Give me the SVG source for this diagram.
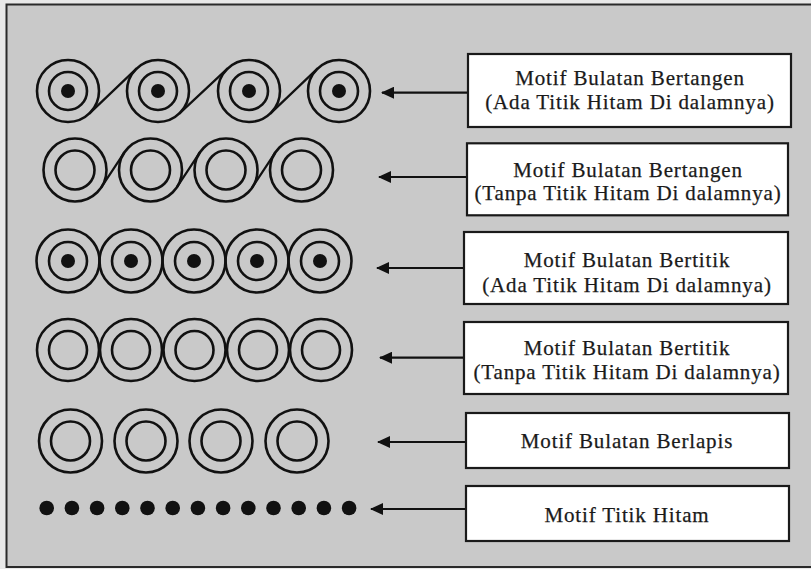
<svg xmlns="http://www.w3.org/2000/svg" width="811" height="569" viewBox="0 0 811 569">
<defs>
<style>
.o{fill:none;stroke:#111;stroke-width:2.6}
.i{fill:none;stroke:#111;stroke-width:2.6}
.d{fill:#111}
.t{fill:none;stroke:#111;stroke-width:2.2}
.box{fill:#fff;stroke:#1a1a1a;stroke-width:2.2}
.lbl{font-family:"Liberation Serif","Times New Roman",serif;font-size:21px;letter-spacing:0.85px;fill:#1a1a1a;stroke:#1a1a1a;stroke-width:0.25;text-anchor:middle}
.arr{fill:none;stroke:#111;stroke-width:2.2;marker-end:url(#ah)}
</style>
<marker id="ah" markerUnits="userSpaceOnUse" markerWidth="14" markerHeight="12" refX="12" refY="6" orient="auto">
<path d="M0,0 L13,6 L0,12 Z" fill="#111"/>
</marker>
</defs>
<rect x="0" y="0" width="811" height="569" fill="#e8e8e8"/>
<rect x="6.5" y="4.5" width="812" height="562.5" fill="#c9c9c9" stroke="#2a2a2a" stroke-width="2"/>

<g id="row1">
<circle class="o" cx="68" cy="91" r="31"/><circle class="i" cx="68" cy="91" r="19"/><circle class="d" cx="68" cy="91" r="7"/>
<circle class="o" cx="158" cy="91" r="31"/><circle class="i" cx="158" cy="91" r="19"/><circle class="d" cx="158" cy="91" r="7"/>
<circle class="o" cx="249" cy="91" r="31"/><circle class="i" cx="249" cy="91" r="19"/><circle class="d" cx="249" cy="91" r="7"/>
<circle class="o" cx="339" cy="91" r="31"/><circle class="i" cx="339" cy="91" r="19"/><circle class="d" cx="339" cy="91" r="7"/>
<path class="t" d="M89.3,113.6 L136.7,68.4 M179.3,113.6 L227.7,68.4 M270.3,113.6 L317.7,68.4"/>
</g>

<g id="row2">
<circle class="o" cx="75" cy="170" r="31.5"/><circle class="i" cx="75" cy="170" r="19.5"/>
<circle class="o" cx="150.5" cy="170" r="31.5"/><circle class="i" cx="150.5" cy="170" r="19.5"/>
<circle class="o" cx="226" cy="170" r="31.5"/><circle class="i" cx="226" cy="170" r="19.5"/>
<circle class="o" cx="301.5" cy="170" r="31.5"/><circle class="i" cx="301.5" cy="170" r="19.5"/>
<path class="t" d="M101.3,187.4 L124.2,152.6 M176.8,187.4 L199.7,152.6 M252.3,187.4 L275.2,152.6"/>
</g>

<g id="row3">
<circle class="o" cx="68" cy="261" r="31.5"/><circle class="i" cx="68" cy="261" r="19"/><circle class="d" cx="68" cy="261" r="7"/>
<circle class="o" cx="131" cy="261" r="31.5"/><circle class="i" cx="131" cy="261" r="19"/><circle class="d" cx="131" cy="261" r="7"/>
<circle class="o" cx="194" cy="261" r="31.5"/><circle class="i" cx="194" cy="261" r="19"/><circle class="d" cx="194" cy="261" r="7"/>
<circle class="o" cx="257" cy="261" r="31.5"/><circle class="i" cx="257" cy="261" r="19"/><circle class="d" cx="257" cy="261" r="7"/>
<circle class="o" cx="320" cy="261" r="31.5"/><circle class="i" cx="320" cy="261" r="19"/><circle class="d" cx="320" cy="261" r="7"/>
</g>

<g id="row4">
<circle class="o" cx="68" cy="350" r="31"/><circle class="i" cx="68" cy="350" r="19"/>
<circle class="o" cx="131" cy="350" r="31"/><circle class="i" cx="131" cy="350" r="19"/>
<circle class="o" cx="194.5" cy="350" r="31"/><circle class="i" cx="194.5" cy="350" r="19"/>
<circle class="o" cx="258" cy="350" r="31"/><circle class="i" cx="258" cy="350" r="19"/>
<circle class="o" cx="321" cy="350" r="31"/><circle class="i" cx="321" cy="350" r="19"/>
</g>

<g id="row5">
<circle class="o" cx="70.5" cy="441" r="31.5"/><circle class="i" cx="70.5" cy="441" r="19.5"/>
<circle class="o" cx="146" cy="441" r="31.5"/><circle class="i" cx="146" cy="441" r="19.5"/>
<circle class="o" cx="221" cy="441" r="31.5"/><circle class="i" cx="221" cy="441" r="19.5"/>
<circle class="o" cx="297" cy="441" r="31.5"/><circle class="i" cx="297" cy="441" r="19.5"/>
</g>

<g id="row6">
<circle class="d" cx="46.7" cy="508" r="7.3"/><circle class="d" cx="71.9" cy="508" r="7.3"/><circle class="d" cx="97.1" cy="508" r="7.3"/>
<circle class="d" cx="122.3" cy="508" r="7.3"/><circle class="d" cx="147.5" cy="508" r="7.3"/><circle class="d" cx="172.7" cy="508" r="7.3"/>
<circle class="d" cx="197.9" cy="508" r="7.3"/><circle class="d" cx="223.1" cy="508" r="7.3"/><circle class="d" cx="248.3" cy="508" r="7.3"/>
<circle class="d" cx="273.5" cy="508" r="7.3"/><circle class="d" cx="298.7" cy="508" r="7.3"/><circle class="d" cx="323.9" cy="508" r="7.3"/>
<circle class="d" cx="349.1" cy="508" r="7.3"/>
</g>

<g id="connectors">
<line class="arr" x1="468" y1="92.7" x2="382" y2="92.7"/>
<line class="arr" x1="467" y1="177" x2="379" y2="177"/>
<line class="arr" x1="464" y1="268" x2="377" y2="268"/>
<line class="arr" x1="464" y1="357.7" x2="380" y2="357.7"/>
<line class="arr" x1="466" y1="442" x2="378" y2="442"/>
<line class="arr" x1="466" y1="509" x2="371" y2="509"/>
</g>

<g id="box1">
<rect class="box" x="468" y="54" width="323" height="73"/>
<text class="lbl" x="630" y="85">Motif Bulatan Bertangen</text>
<text class="lbl" x="630" y="108.5">(Ada Titik Hitam Di dalamnya)</text>
</g>
<g id="box2">
<rect class="box" x="467" y="143.3" width="321" height="72"/>
<text class="lbl" x="628" y="176.7">Motif Bulatan Bertangen</text>
<text class="lbl" x="628" y="200">(Tanpa Titik Hitam Di dalamnya)</text>
</g>
<g id="box3">
<rect class="box" x="464" y="232" width="324" height="72"/>
<text class="lbl" x="627" y="266.7">Motif Bulatan Bertitik</text>
<text class="lbl" x="627" y="291.5">(Ada Titik Hitam Di dalamnya)</text>
</g>
<g id="box4">
<rect class="box" x="464" y="322" width="324" height="72"/>
<text class="lbl" x="627" y="355">Motif Bulatan Bertitik</text>
<text class="lbl" x="627" y="378.5">(Tanpa Titik Hitam Di dalamnya)</text>
</g>
<g id="box5">
<rect class="box" x="466" y="413" width="323" height="55"/>
<text class="lbl" x="627" y="448.3">Motif Bulatan Berlapis</text>
</g>
<g id="box6">
<rect class="box" x="466" y="486" width="323" height="55"/>
<text class="lbl" x="627" y="521.7">Motif Titik Hitam</text>
</g>
</svg>
